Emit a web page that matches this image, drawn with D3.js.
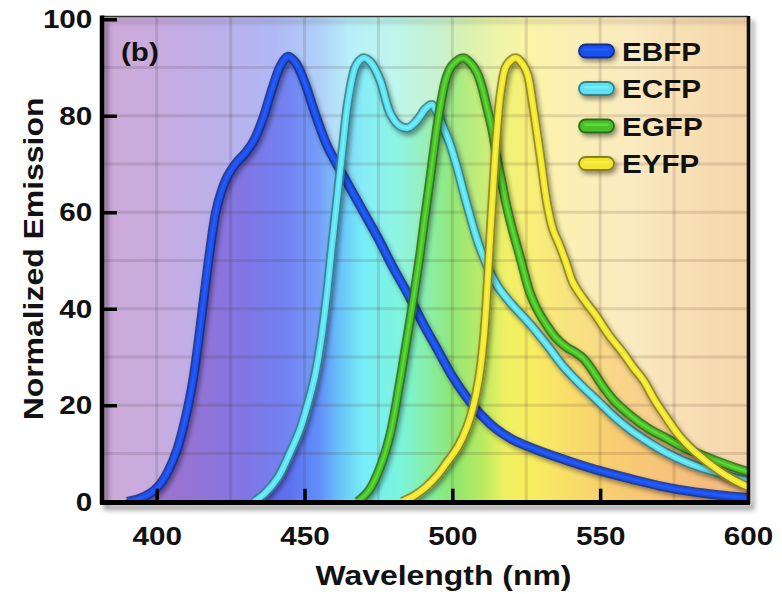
<!DOCTYPE html>
<html><head><meta charset="utf-8">
<script src="https://cdn.jsdelivr.net/npm/d3@7"></script>
<style>
html,body{margin:0;padding:0;background:#fff;}
svg{display:block;}
text{font-family:"Liberation Sans",Arial,Helvetica,sans-serif;font-weight:bold;fill:#111;}
</style></head><body>
<svg id="chart" width="782" height="594"></svg>
<script>
// ---- data ----
const seriesNames = ["EBFP","ECFP","EGFP","EYFP"];
const seriesColors = ["#1f50f0","#5fe0f2","#4cbf2a","#f2e436"];
const xTicks = [400,450,500,550,600];
const yTicks = [0,20,40,60,80,100];
const xGrid = [400,425,450,475,500,525,550,575];
const yGrid = [10,20,30,40,50,60,70,80,90];

const ebfpWl = [390,394,398,401,404,407,410,412.5,415,418,420,422,424,427,430,433,436,439,442,444.5,447,450,453,455,457.5,460,465,470,475,480,485,490,495,500,505,510,515,520,525,530,540,550,560,570,580,590,600];
const ebfpVal = [0,0.6,1.8,3.5,6.5,11,18,26,37.5,52,60,64.5,67.5,70.3,72.3,75,79.5,85.5,90.5,92.3,91,87,81.5,78,74,71,65.5,60,54.5,48.5,43,37,31.5,26,21.5,17.8,15,13,11.6,10.4,8.3,6.4,4.8,3.3,2.2,1.4,0.8];

const ecfpWl = [433,437,441,445,448.5,451,453.5,455.5,457.5,459.2,461,463,465,467.5,470,472.5,475.5,479,482,485,488,491,493,495,497,499,501.5,505,509.4,515,520,526,532,537.6,543,549,555,560,566,572,578,583,590,595,600];
const ecfpVal = [0,2,5,10,15,20,26,33,42.5,52.5,62.5,74,84,90.5,92,91,87.5,80.5,78,77.5,79,81.5,82.3,80.5,77.5,74.5,69.5,61.5,52.5,45,41,37,32.5,28,24.5,21,17.5,15,12.5,10.3,8.5,7.3,6,5,4.3];

const egfpWl = [468,472,475.5,479,482.3,485,486.8,489,490.5,492.5,494,495.8,498,500,503.7,506,508.3,510,511.6,513.5,515,516.5,518.4,520.5,523,526.3,529,532,535,538.7,541.5,544.3,546.5,548.8,552,554.5,560,566,572,578,583,590,595,600];
const egfpVal = [0,2.5,7,14,25,35,42,51,58,67,74,81.5,88,90.5,92,91,89,86,82,77,71.5,67,61.2,56,50.5,43.2,39.5,36.5,34,32,31,29.7,28,25.9,23,21.1,18,15.3,13.3,11.3,10,8.3,7.2,6.2];

const eyfpWl = [483,487,491,495,498,502,505,507,509,510.5,511.6,512.8,514,515,516.5,518.4,521.5,524,525.5,527.3,529.7,532,534,536.4,538.5,540.9,545,548.8,553,557.8,561,564.6,568,571.4,577,582.7,590,595,600];
const eyfpVal = [0,1.2,3,5.5,8,11.5,15.5,19.5,25.5,33,42,55,67,76,85.5,90.5,92,90.5,88.5,82,72,62,56.5,53,49.5,45.3,41.5,38.4,34.5,30.8,28,25.2,21.5,18.3,13.5,10,6.5,4.6,3.1];

// background spectrum (light) and fill spectrum (saturated), by wavelength
const bgStopsNm = [382,400,420,440,455,465,480,495,505,515,525,540,560,580,600];
const bgStopsCol = ["#cdaad8","#c8acdf","#bcb0ea","#b0b8f4","#b0d0f8","#b8eef8","#bdf6ec","#c8f2d0","#d8f2b0","#eef4a8","#faf4a8","#fbf0b4","#faeac0","#f8dfb4","#f6d6aa"];
const fillStopsNm = [382,400,415,430,445,455,462,470,482,492,500,510,518,528,540,555,575,600];
const fillStopsCol = ["#9460c0","#8a58c8","#7c58d0","#6658e0","#5468f0","#5888f8","#60c0f8","#70ecf8","#78f4dc","#84eea4","#8ce670","#b8ea60","#f0f060","#f8ec60","#f8dc68","#f8cc70","#f6c078","#f4b880"];

const series = [
  {name: seriesNames[0], color: seriesColors[0], wl: ebfpWl, val: ebfpVal},
  {name: seriesNames[1], color: seriesColors[1], wl: ecfpWl, val: ecfpVal},
  {name: seriesNames[2], color: seriesColors[2], wl: egfpWl, val: egfpVal},
  {name: seriesNames[3], color: seriesColors[3], wl: eyfpWl, val: eyfpVal}
];

// ---- layout ----
const L = 102, R = 748, T = 16, B = 502;
const x = d3.scaleLinear().domain([381.5, 600]).range([L, R]);
const y = d3.scaleLinear().domain([0, 100]).range([501.7, 19.3]);
const SX = 1.14; // horizontal stretch of text

const svg = d3.select("#chart");
const defs = svg.append("defs");

function grad(id, nms, cols) {
  const g = defs.append("linearGradient").attr("id", id)
    .attr("gradientUnits", "userSpaceOnUse")
    .attr("x1", L).attr("x2", R).attr("y1", 0).attr("y2", 0);
  nms.forEach((n, i) => g.append("stop")
    .attr("offset", (x(n) - L) / (R - L)).attr("stop-color", cols[i]));
}
grad("bgGrad", bgStopsNm, bgStopsCol);
grad("fillGrad", fillStopsNm, fillStopsCol);

defs.append("clipPath").attr("id", "plotClip")
  .append("rect").attr("x", L).attr("y", T).attr("width", R - L).attr("height", B - T);

function shadowFilter(id, blur, dx, dy, alpha) {
  const f = defs.append("filter").attr("id", id).attr("filterUnits", "userSpaceOnUse")
    .attr("x", 0).attr("y", 0).attr("width", 782).attr("height", 594);
  f.append("feGaussianBlur").attr("in", "SourceAlpha").attr("stdDeviation", blur);
  f.append("feOffset").attr("dx", dx).attr("dy", dy);
  f.append("feComponentTransfer").attr("result", "sh")
    .append("feFuncA").attr("type", "linear").attr("slope", alpha);
  const m = f.append("feMerge");
  m.append("feMergeNode").attr("in", "sh");
  m.append("feMergeNode").attr("in", "SourceGraphic");
}
shadowFilter("lineShadow", 2.5, 2, 3, 0.45);
shadowFilter("frameShadow", 2.5, 4, 5, 0.4);

// ---- plot background ----
const plot = svg.append("g").attr("clip-path", "url(#plotClip)");
plot.append("rect").attr("x", L).attr("y", T).attr("width", R - L).attr("height", B - T)
  .attr("fill", "url(#bgGrad)");

const curve = d3.curveCatmullRom.alpha(0.5);
const area = d3.area().x(d => x(d[0])).y0(y(0)).y1(d => y(d[1])).curve(curve);
const line = d3.line().x(d => x(d[0])).y(d => y(d[1])).curve(curve);

series.forEach(s => {
  const pts = s.wl.map((w, i) => [w, s.val[i]]);
  plot.append("path").attr("d", area(pts)).attr("fill", "url(#fillGrad)").attr("fill-opacity", 0.68);
});

// gridlines
plot.selectAll(".vg").data(xGrid).join("line")
  .attr("x1", d => x(d)).attr("x2", d => x(d)).attr("y1", T).attr("y2", B)
  .attr("stroke", "rgba(70,45,40,0.14)").attr("stroke-width", 3);
plot.selectAll(".hg").data(yGrid).join("line")
  .attr("y1", d => y(d)).attr("y2", d => y(d)).attr("x1", L).attr("x2", R)
  .attr("stroke", "rgba(70,45,40,0.14)").attr("stroke-width", 3);

// curves as tubes
series.forEach(s => {
  const pts = s.wl.map((w, i) => [w, s.val[i]]);
  const g = plot.append("g").attr("filter", "url(#lineShadow)");
  const c = d3.color(s.color);
  g.append("path").attr("d", line(pts)).attr("fill", "none")
    .attr("stroke", c.darker(1.6)).attr("stroke-opacity", 0.85).attr("stroke-width", 9.5);
  g.append("path").attr("d", line(pts)).attr("fill", "none")
    .attr("stroke", s.color).attr("stroke-width", 6);
  g.append("path").attr("d", line(pts)).attr("fill", "none")
    .attr("stroke", c.brighter(0.7)).attr("stroke-opacity", 0.55).attr("stroke-width", 2);
});

// ---- frame ----
const frame = svg.append("g").attr("filter", "url(#frameShadow)");
frame.append("line").attr("x1", L).attr("x2", R).attr("y1", T + 0.5).attr("y2", T + 0.5)
  .attr("stroke", "#333").attr("stroke-width", 1.5);
frame.append("line").attr("x1", R + 0.5).attr("x2", R + 0.5).attr("y1", T).attr("y2", B + 2)
  .attr("stroke", "#111").attr("stroke-width", 3.5);
frame.append("line").attr("x1", L).attr("x2", L).attr("y1", T - 0.5).attr("y2", B + 2.5)
  .attr("stroke", "#000").attr("stroke-width", 4.5);
frame.append("line").attr("x1", L - 2).attr("x2", R + 2).attr("y1", B + 0.5).attr("y2", B + 0.5)
  .attr("stroke", "#000").attr("stroke-width", 5);

// ---- axes ----
const yAxis = svg.append("g").attr("transform", `translate(${L},0)`)
  .call(d3.axisLeft(y).tickValues(yTicks).tickSizeInner(-15).tickSizeOuter(0).tickPadding(8.5));
const xAxis = svg.append("g").attr("transform", `translate(0,${y(0)})`)
  .call(d3.axisBottom(x).tickValues(xTicks).tickSizeInner(-13).tickSizeOuter(0).tickPadding(25));
[yAxis, xAxis].forEach(a => {
  a.select(".domain").remove();
  a.selectAll(".tick line").attr("stroke", "#000").attr("stroke-width", 3.5);
  a.selectAll(".tick text").attr("font-size", 26).attr("fill", "#111")
    .attr("font-family", null).attr("transform", `scale(${SX},1)`);
});
xAxis.selectAll(".tick").filter(d => d === 600).select("line").remove();

// ---- titles ----
function stretchedText(tx, ty, rot, str, size, anchor) {
  svg.append("g").attr("transform", `translate(${tx},${ty}) rotate(${rot}) scale(${SX},1)`)
    .append("text").attr("text-anchor", anchor).attr("font-size", size).text(str);
}
stretchedText(443.5, 585, 0, "Wavelength (nm)", 28, "middle");
stretchedText(43, 259, -90, "Normalized Emission", 28, "middle");
stretchedText(121, 61, 0, "(b)", 26, "start");

// ---- legend ----
series.forEach((s, i) => {
  const yc = 51 + i * 37.5;
  const c = d3.color(s.color);
  const g = svg.append("g").attr("filter", "url(#lineShadow)");
  g.append("rect").attr("x", 579).attr("y", yc - 6.5).attr("width", 35).attr("height", 13).attr("rx", 6.5)
    .attr("fill", s.color).attr("stroke", c.darker(1.6)).attr("stroke-width", 1.8);
  g.append("rect").attr("x", 584).attr("y", yc - 2.5).attr("width", 25).attr("height", 2.5).attr("rx", 1.2)
    .attr("fill", c.brighter(0.7)).attr("fill-opacity", 0.55);
  stretchedText(622, yc + 9.5, 0, s.name, 26, "start");
});
</script>
</body></html>
